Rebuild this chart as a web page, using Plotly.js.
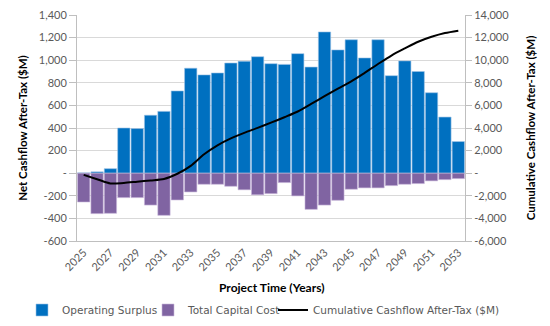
<!DOCTYPE html>
<html>
<head>
<meta charset="utf-8">
<script src="https://cdn.plot.ly/plotly-3.0.1.min.js"></script>
<style>html,body{margin:0;padding:0;background:#fff;}#chart{width:550px;height:326px;}</style>
</head>
<body>
<div id="chart"></div>
<script>
const years = [2025,2026,2027,2028,2029,2030,2031,2032,2033,2034,2035,2036,2037,2038,2039,2040,2041,2042,2043,2044,2045,2046,2047,2048,2049,2050,2051,2052,2053];
const operatingSurplus = [3,12,40,400,395,513,547,728,929,870,887,975,990,1031,969,963,1058,939,1250,1091,1181,1020,1181,863,994,900,712,497,280];
const totalCapitalCost = [-255,-358,-355,-216,-216,-282,-373,-237,-166,-98,-98,-116,-147,-191,-181,-83,-201,-320,-282,-240,-142,-130,-130,-110,-98,-92,-68,-57,-48];
const cumulativeCashflow = [-150,-530,-910,-860,-750,-640,-510,-50,650,1675,2470,3080,3570,4010,4470,4950,5460,6130,6820,7490,8130,8880,9665,10415,11040,11630,12070,12405,12615];
const xTickVals = [2025,2027,2029,2031,2033,2035,2037,2039,2041,2043,2045,2047,2049,2051,2053];
const leftTickVals = [-600,-400,-200,0,200,400,600,800,1000,1200,1400];
const leftTickText = ['-600','-400','-200','-','200','400','600','800','1,000','1,200','1,400'];
const rightTickVals = [-6000,-4000,-2000,0,2000,4000,6000,8000,10000,12000,14000];
const rightTickText = ['-6,000','-4,000','-2,000','-','2,000','4,000','6,000','8,000','10,000','12,000','14,000'];
const xTitle = 'Project Time (Years)';

const FONT = 'Lato, "Open Sans", sans-serif';
const LFONT = '"DejaVu Sans", sans-serif';
const data = [
  {type:'bar', name:'Operating Surplus', x:years, y:operatingSurplus, legend:'legend',
   marker:{color:'#0070C0', line:{color:'#9DC3E6', width:0.6}}},
  {type:'bar', name:'Total Capital Cost', x:years, y:totalCapitalCost, legend:'legend2',
   marker:{color:'#8064A2', line:{color:'#C9B8DC', width:0.6}}},
  {type:'scatter', mode:'lines', name:'Cumulative Cashflow After-Tax ($M)', x:years, y:cumulativeCashflow,
   yaxis:'y2', legend:'legend3', line:{color:'#000000', width:2, shape:'spline', smoothing:0.8}}
];
function leg(px){
  return {orientation:'h', xref:'container', yref:'container', x:px/550, xanchor:'left', y:1-310/326, yanchor:'middle',
          font:{family:LFONT, size:10.5, color:'#595959'}, itemwidth:30, bgcolor:'rgba(0,0,0,0)', borderwidth:0};
}
const layout = {
  width:550, height:326,
  margin:{l:77, r:85, t:15, b:85},
  paper_bgcolor:'#ffffff', plot_bgcolor:'#ffffff',
  font:{family:FONT, size:10, color:'#595959'},
  barmode:'relative', bargap:0.08,
  showlegend:true,
  legend:leg(22), legend2:leg(148), legend3:leg(273),
  annotations:[{text:xTitle, xref:'paper', yref:'paper', x:0.5, xanchor:'center', y:-46/226, yanchor:'middle',
                showarrow:false, font:{family:FONT, size:12, color:'#000000', weight:'bold'}}],
  xaxis:{range:[2024.5,2053.5], tickmode:'array', tickvals:xTickVals, tickangle:-45, automargin:false,
         showgrid:false, showline:true, linecolor:'#BFBFBF', linewidth:1, zeroline:false,
         ticks:'', tickfont:{family:FONT, size:11, color:'#595959'}},
  yaxis:{range:[-600,1400], tickmode:'array', tickvals:leftTickVals, ticktext:leftTickText, automargin:false,
         showgrid:true, gridcolor:'#D9D9D9', gridwidth:1, zeroline:false,
         showline:true, linecolor:'#BFBFBF', linewidth:1, ticks:'outside', ticklen:7, tickcolor:'#BFBFBF',
         tickfont:{family:FONT, size:11, color:'#595959'},
         title:{text:'Net Cashflow After-Tax ($M)', font:{family:FONT, size:11.5, color:'#000000', weight:'bold'}, standoff:8}},
  yaxis2:{range:[-6000,14000], overlaying:'y', side:'right', tickmode:'array', tickvals:rightTickVals, ticktext:rightTickText, automargin:false,
          showgrid:false, zeroline:false, showline:true, linecolor:'#BFBFBF', linewidth:1,
          ticks:'outside', ticklen:6, tickcolor:'#BFBFBF',
          tickfont:{family:FONT, size:11, color:'#595959'},
          title:{text:'Cumulative Cashflow After-Tax ($M)', font:{family:FONT, size:11.5, color:'#000000', weight:'bold'}, standoff:18}}
};
Plotly.newPlot('chart', data, layout, {displayModeBar:false, staticPlot:true});
</script>
</body>
</html>
